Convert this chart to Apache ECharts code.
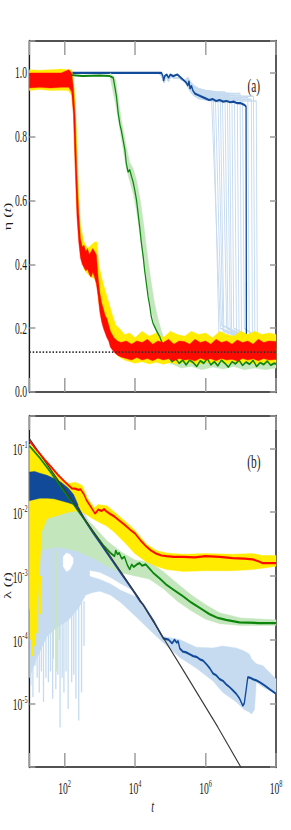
<!DOCTYPE html>
<html><head><meta charset="utf-8">
<script src="https://cdn.jsdelivr.net/npm/echarts@6/dist/echarts.min.js"></script>
<style>
html,body{margin:0;padding:0;background:#fff;overflow:hidden;width:291px;height:830px}
#c{width:485px;height:830px;transform:scaleX(0.6);transform-origin:0 0;}
</style>
</head><body><div id="c"></div>
<script>
// ---------- DATA (lt = log10 t ; panel b values are log10 of lambda) ----------
const xTickExponents = [2, 4, 6, 8];
const yTicksA = [0.0, 0.2, 0.4, 0.6, 0.8, 1.0];
const yTickExponentsB = [-1, -2, -3, -4, -5];
const dottedLevelA = 0.125;

// panel (a): light-blue runs
const lbPlateauLt = [1, 4.7, 4.78, 4.82, 4.88, 4.95, 5.02, 5.1, 5.25, 5.4, 5.5, 5.58, 5.66, 5.8, 6.0, 6.3, 6.7, 7.1, 7.5];
const lbPlateauY  = [1.0, 1.0, 0.985, 0.97, 0.99, 0.975, 0.99, 0.985, 0.985, 0.975, 0.965, 0.95, 0.94, 0.93, 0.925, 0.92, 0.915, 0.912, 0.905];
const lbDropLt    = [6.17, 6.22, 6.28, 6.35, 6.42, 6.48, 6.55, 6.62, 6.68, 6.75, 6.82, 6.9, 6.98, 7.05, 7.2, 7.3, 7.36, 7.44];
const lbDropEndLt = [6.42, 6.38, 6.45, 6.5, 6.52, 6.6, 6.64, 6.7, 6.74, 6.8, 6.88, 6.95, 7.02, 7.1, 7.24, 7.33, 7.4, 7.47];
const lbLevel     = [0.0, 0.01, -0.005, 0.015, 0.005, -0.01, 0.02, 0.0, 0.01, -0.005, 0.015, 0.005, 0.02, 0.0, 0.01, 0.005, 0.015, 0.0];
const lbEndY      = [0.2, 0.18, 0.21, 0.17, 0.19, 0.2, 0.17, 0.19, 0.18, 0.2, 0.17, 0.19, 0.18, 0.2, 0.17, 0.19, 0.18, 0.17];
const lbTailY = 0.13;

// panel (a): dark blue
const blueALt = [1, 4.75, 4.79, 4.81, 4.84, 4.9, 4.95, 5.0, 5.08, 5.2, 5.3, 5.4, 5.45, 5.5, 5.53, 5.56, 5.6, 5.64, 5.7, 5.8, 5.9, 6.0, 6.1, 6.2, 6.3, 6.4, 6.5, 6.6, 6.7, 6.8, 6.9, 7.0, 7.1, 7.15, 7.16, 7.2, 7.3, 8];
const blueAY  = [1.0, 1.0, 0.99, 0.975, 0.99, 0.995, 0.985, 0.995, 0.99, 0.995, 0.985, 0.975, 0.97, 0.96, 0.975, 0.95, 0.96, 0.945, 0.935, 0.93, 0.925, 0.92, 0.915, 0.918, 0.912, 0.915, 0.91, 0.912, 0.908, 0.91, 0.905, 0.905, 0.9, 0.895, 0.15, 0.14, 0.13, 0.12];

// panel (a): green
const greenALt = [1, 1.5, 2.0, 2.5, 3.0, 3.28, 3.38, 3.42, 3.47, 3.52, 3.57, 3.61, 3.66, 3.71, 3.75, 3.8, 3.85, 3.9, 3.94, 3.99, 4.04, 4.08, 4.13, 4.18, 4.23, 4.27, 4.32, 4.37, 4.42, 4.46, 4.51, 4.6, 4.7, 4.79, 4.89,
  4.95, 5.05, 5.15, 5.25, 5.35, 5.45, 5.55, 5.65, 5.75, 5.85, 5.95, 6.05, 6.15, 6.25, 6.35, 6.45, 6.55, 6.65, 6.75, 6.85, 6.95, 7.05, 7.15, 7.25, 7.35, 7.45, 7.55, 7.65, 7.75, 7.85, 7.95, 8.0];
const greenAY  = [0.995, 0.99, 0.995, 0.99, 0.992, 0.99, 0.985, 0.96, 0.927, 0.874, 0.838, 0.82, 0.79, 0.76, 0.717, 0.69, 0.696, 0.675, 0.66, 0.633, 0.602, 0.565, 0.518, 0.466, 0.424, 0.382, 0.34, 0.298, 0.267, 0.236, 0.215, 0.194, 0.173, 0.147, 0.12,
  0.11, 0.095, 0.105, 0.09, 0.1, 0.085, 0.1, 0.092, 0.08, 0.098, 0.09, 0.105, 0.085, 0.095, 0.082, 0.1, 0.09, 0.078, 0.095, 0.088, 0.1, 0.083, 0.094, 0.087, 0.099, 0.08, 0.092, 0.086, 0.097, 0.084, 0.09, 0.088];

// panel (a): light green band
const lgALt = [3.3, 3.45, 3.6, 3.75, 3.85, 3.95, 4.05, 4.15, 4.25, 4.35, 4.45, 4.55, 4.65, 4.75, 4.85, 5.0, 5.3, 5.6, 5.9, 6.2, 6.5, 6.8, 7.1, 7.4, 7.7, 8.0];
const lgALo = [0.98, 0.9, 0.8, 0.7, 0.66, 0.62, 0.56, 0.48, 0.4, 0.32, 0.26, 0.21, 0.17, 0.14, 0.12, 0.09, 0.075, 0.08, 0.07, 0.078, 0.072, 0.08, 0.07, 0.075, 0.07, 0.075];
const lgAHi = [1.0, 0.98, 0.86, 0.77, 0.72, 0.7, 0.66, 0.6, 0.52, 0.43, 0.35, 0.28, 0.23, 0.19, 0.16, 0.12, 0.11, 0.105, 0.11, 0.1, 0.108, 0.1, 0.11, 0.1, 0.105, 0.1];

// panel (a): yellow band
const yelALt = [1.0, 1.3, 1.6, 1.9, 2.1, 2.2, 2.25, 2.3, 2.35, 2.4, 2.45, 2.55, 2.65, 2.75, 2.85, 2.92, 2.97, 3.05, 3.12, 3.2, 3.28, 3.36, 3.45, 3.55, 3.7, 3.85, 4.0, 4.2, 4.4, 4.6, 4.8, 5.0, 5.2, 5.4, 5.6, 5.8, 6.0, 6.2, 6.4, 6.6, 6.8, 7.0, 7.2, 7.4, 7.6, 7.8, 8.0];
const yelALo = [0.945, 0.948, 0.945, 0.946, 0.945, 0.93, 0.88, 0.72, 0.58, 0.49, 0.43, 0.385, 0.37, 0.36, 0.355, 0.33, 0.28, 0.24, 0.21, 0.18, 0.16, 0.14, 0.12, 0.11, 0.1, 0.095, 0.09, 0.095, 0.088, 0.093, 0.087, 0.092, 0.088, 0.094, 0.09, 0.086, 0.093, 0.089, 0.095, 0.088, 0.092, 0.09, 0.094, 0.087, 0.092, 0.089, 0.093];
const yelAHi = [1.01, 1.008, 1.01, 1.012, 1.01, 1.01, 0.98, 0.92, 0.78, 0.62, 0.52, 0.47, 0.45, 0.46, 0.47, 0.47, 0.4, 0.36, 0.33, 0.3, 0.27, 0.24, 0.21, 0.2, 0.18, 0.185, 0.17, 0.19, 0.175, 0.185, 0.17, 0.19, 0.18, 0.175, 0.19, 0.18, 0.185, 0.17, 0.19, 0.18, 0.175, 0.19, 0.18, 0.19, 0.18, 0.185, 0.18];

// panel (a): red band
const redALt = [1.0, 1.3, 1.6, 1.9, 2.12, 2.2, 2.25, 2.3, 2.35, 2.4, 2.45, 2.5, 2.55, 2.6, 2.65, 2.7, 2.75, 2.8, 2.85, 2.9, 2.95, 3.0, 3.05, 3.1, 3.15, 3.2, 3.25, 3.3, 3.4, 3.5, 3.6, 3.75, 3.9, 4.05, 4.2, 4.35, 4.5, 4.65, 4.8, 4.95, 5.1, 5.25, 5.4, 5.55, 5.7, 5.85, 6.0, 6.15, 6.3, 6.45, 6.6, 6.75, 6.9, 7.05, 7.2, 7.35, 7.5, 7.65, 7.8, 8.0];
const redALo = [0.953, 0.955, 0.953, 0.955, 0.955, 0.94, 0.87, 0.7, 0.55, 0.47, 0.42, 0.4, 0.39, 0.38, 0.385, 0.37, 0.36, 0.375, 0.36, 0.34, 0.3, 0.25, 0.22, 0.2, 0.185, 0.17, 0.16, 0.14, 0.125, 0.115, 0.11, 0.105, 0.1, 0.108, 0.1, 0.105, 0.098, 0.106, 0.1, 0.104, 0.097, 0.105, 0.1, 0.103, 0.097, 0.106, 0.1, 0.104, 0.098, 0.105, 0.1, 0.103, 0.097, 0.105, 0.1, 0.104, 0.098, 0.105, 0.1, 0.102];
const redAHi = [1.0, 1.0, 1.0, 1.0, 1.01, 1.0, 0.95, 0.86, 0.68, 0.56, 0.48, 0.455, 0.46, 0.44, 0.45, 0.43, 0.44, 0.45, 0.44, 0.43, 0.36, 0.31, 0.28, 0.26, 0.24, 0.23, 0.21, 0.19, 0.17, 0.16, 0.155, 0.16, 0.15, 0.16, 0.155, 0.165, 0.15, 0.16, 0.155, 0.165, 0.15, 0.16, 0.158, 0.15, 0.165, 0.155, 0.16, 0.15, 0.165, 0.155, 0.16, 0.15, 0.163, 0.155, 0.16, 0.15, 0.165, 0.155, 0.16, 0.158];

// panel (b): black reference curve (log10 lambda)
const blackBLt  = [1, 2.5, 4.13, 5.3, 6.35, 7.0, 8.0];
const blackBLog = [-0.844, -2.05, -3.37, -4.42, -5.375, -6.0, -7.0];

// panel (b): red
const redBLt  = [1.0, 1.2, 1.44, 1.65, 1.82, 2.0, 2.2, 2.3, 2.39, 2.45, 2.55, 2.62, 2.75, 2.86, 2.9, 2.95, 3.05, 3.12, 3.19, 3.3, 3.42, 3.55, 3.71, 3.85, 3.99, 4.15, 4.32, 4.45, 4.6, 4.75, 4.89, 5.1, 5.36, 5.7, 5.99, 6.4, 6.77, 7.1, 7.34, 7.5, 7.62, 7.8, 8.0];
const redBLog = [-0.88, -1.02, -1.18, -1.31, -1.42, -1.52, -1.625, -1.63, -1.65, -1.64, -1.72, -1.81, -1.92, -2.02, -2.0, -1.96, -1.98, -1.95, -1.99, -2.03, -2.07, -2.13, -2.2, -2.27, -2.33, -2.44, -2.54, -2.6, -2.65, -2.68, -2.69, -2.7, -2.7, -2.71, -2.69, -2.7, -2.72, -2.73, -2.74, -2.77, -2.8, -2.8, -2.8];

// panel (b): yellow band
const yelBLt = [1.0, 1.1, 1.25, 1.35, 1.5, 1.8, 2.1, 2.3, 2.5, 2.65, 2.85, 2.95, 3.2, 3.42, 3.71, 3.99, 4.32, 4.6, 4.89, 5.36, 5.99, 6.77, 7.34, 7.62, 8.0];
const yelBHi = [-0.93, -0.98, -1.05, -1.1, -1.2, -1.4, -1.55, -1.53, -1.58, -1.78, -1.93, -1.88, -1.9, -2.0, -2.14, -2.28, -2.5, -2.6, -2.64, -2.66, -2.65, -2.66, -2.65, -2.68, -2.68];
const yelBLo = [-3.5, -3.7, -3.3, -2.3, -2.1, -2.05, -2.0, -1.98, -2.0, -2.05, -2.12, -2.15, -2.22, -2.32, -2.48, -2.65, -2.78, -2.85, -2.9, -2.93, -2.92, -2.92, -2.9, -2.88, -2.85];
const yelSpikeLt  = [1.05, 1.1, 1.15, 1.22, 1.3];
const yelSpikeLog = [-4.0, -4.26, -4.1, -3.9, -3.6];
const yelSpikeTop = -3.0;

// panel (b): green
const greenBLt  = [1.0, 1.3, 1.6, 2.0, 2.4, 2.8, 3.1, 3.3, 3.42, 3.45, 3.5, 3.55, 3.62, 3.7, 3.78, 3.85, 3.9, 3.96, 4.05, 4.13, 4.2, 4.3, 4.4, 4.51, 4.7, 4.89, 5.1, 5.36, 5.6, 5.83, 6.11, 6.35, 6.58, 6.96, 7.5, 8.0];
const greenBLog = [-0.96, -1.15, -1.37, -1.68, -1.99, -2.3, -2.52, -2.64, -2.69, -2.6, -2.66, -2.64, -2.73, -2.7, -2.83, -2.9, -2.82, -2.86, -2.82, -2.8, -2.84, -2.82, -2.88, -2.95, -3.04, -3.14, -3.22, -3.32, -3.42, -3.5, -3.6, -3.66, -3.69, -3.73, -3.74, -3.74];

// panel (b): light green band
const lgBLt = [1.3, 1.8, 2.3, 2.8, 3.2, 3.6, 4.0, 4.4, 4.8, 5.2, 5.6, 6.0, 6.4, 7.0, 8.0];
const lgBLo = [-2.6, -2.55, -2.6, -2.72, -2.85, -2.95, -3.0, -3.05, -3.2, -3.4, -3.55, -3.68, -3.75, -3.78, -3.78];
const lgBHi = [-1.6, -1.7, -1.95, -2.2, -2.45, -2.62, -2.75, -2.78, -2.93, -3.12, -3.3, -3.45, -3.58, -3.66, -3.69];
const lgSpikeLt  = [1.68, 1.78, 1.85];
const lgSpikeLog = [-4.3, -4.5, -4.0];
const lgSpikeTop = -2.6;

// panel (b): dark blue (early oscillating band + line)
const blueBandLt = [1.0, 1.15, 1.3, 1.5, 1.7, 1.9, 2.1, 2.25, 2.38];
const blueBandLo = [-1.82, -1.8, -1.78, -1.78, -1.79, -1.82, -1.85, -1.88, -1.93];
const blueBandHi = [-1.37, -1.36, -1.39, -1.42, -1.47, -1.53, -1.62, -1.72, -1.88];
const blueBLt  = [2.38, 2.6, 2.8, 3.0, 3.2, 3.4, 3.6, 3.8, 4.0, 4.13, 4.23, 4.4, 4.55, 4.7, 4.8, 4.95, 5.05, 5.12, 5.18, 5.22, 5.27, 5.36, 5.45, 5.55, 5.65, 5.74, 5.84, 5.93, 6.03, 6.12, 6.21, 6.3, 6.4, 6.5, 6.6, 6.69, 6.78, 6.87, 6.96, 7.06, 7.1, 7.15, 7.2, 7.27, 7.34, 7.44, 7.54, 7.68, 7.82, 8.0];
const blueBLog = [-1.92, -2.15, -2.32, -2.48, -2.64, -2.8, -2.96, -3.12, -3.28, -3.39, -3.45, -3.6, -3.73, -3.88, -3.98, -4.0, -4.06, -4.0, -4.05, -4.02, -4.14, -4.19, -4.2, -4.23, -4.26, -4.27, -4.31, -4.33, -4.39, -4.45, -4.53, -4.56, -4.62, -4.65, -4.71, -4.75, -4.8, -4.85, -4.92, -5.04, -5.0, -4.8, -4.59, -4.6, -4.62, -4.64, -4.67, -4.72, -4.78, -4.85];

// panel (b): light blue runs (envelope, gaps and downward spikes)
const lbBLt = [1.0, 1.2, 1.5, 1.8, 2.1, 2.4, 2.6, 2.8, 3.0, 3.3, 3.6, 3.85, 4.1, 4.4, 4.8, 5.27, 5.74, 6.21, 6.49, 6.87, 7.1, 7.25, 7.3, 7.39, 7.44, 7.63, 8.0];
const lbBHi = [-1.4, -1.4, -1.45, -1.5, -1.6, -1.8, -2.05, -2.25, -2.45, -2.7, -2.95, -3.15, -3.35, -3.62, -3.95, -4.0, -4.12, -4.13, -4.10, -4.13, -4.18, -4.23, -4.3, -4.35, -4.38, -4.41, -4.62];
const lbBLo = [-4.6, -4.3, -3.95, -3.8, -3.7, -3.5, -3.3, -3.26, -3.24, -3.3, -3.42, -3.55, -3.68, -3.84, -4.05, -4.28, -4.45, -4.65, -4.83, -4.98, -5.1, -5.14, -5.17, -5.1, -4.67, -4.75, -4.85];
const gap1Lt = [1.96, 2.05, 2.15, 2.24];
const gap1Lo = [-2.85, -2.93, -2.9, -2.8];
const gap1Hi = [-2.7, -2.64, -2.66, -2.72];
const gap2Lt = [2.72, 3.0, 3.3, 3.6, 4.0];
const gap2Lo = [-3.0, -3.05, -3.12, -3.22, -3.32];
const gap2Hi = [-2.92, -2.95, -3.03, -3.13, -3.25];
const lbSpikeLt  = [1.04, 1.1, 1.16, 1.22, 1.28, 1.34, 1.4, 1.47, 1.54, 1.6, 1.66, 1.75, 1.81, 1.87, 1.93, 1.98, 2.04, 2.1, 2.2, 2.26, 2.32, 2.4, 2.48, 2.55];
const lbSpikeLog = [-4.72, -4.9, -4.41, -4.6, -4.83, -4.5, -4.98, -4.6, -4.67, -4.5, -4.93, -4.78, -4.55, -5.38, -4.6, -4.83, -4.5, -5.09, -4.67, -4.55, -4.93, -5.27, -4.83, -4.1];
const lbSpikeTop = -3.4;

// ---------- COLORS / LAYOUT ----------
const C = {lightBlue:'#c6dbf0', blue:'#124a9a', green:'#0b850b', lightGreen:'#c4e6bd', yellow:'#ffec00', red:'#ff0a00', black:'#3a3a3a'};
const GL = 49, GW = 411, GH = 351, GT = [41, 416];
const FONT = 'Liberation Serif';

const T = lt => Math.pow(10, lt);
const L = e => Math.pow(10, e);
const ID = v => v;

function line(gi, lts, ys, f, color, width, z, extra) {
  return Object.assign({type:'line', xAxisIndex:gi*2, yAxisIndex:gi*2,
    data: lts.map((x,i)=>[T(x), f(ys[i])]), showSymbol:false, symbol:'none',
    silent:true, animation:false, z, lineStyle:{color, width}}, extra||{});
}
function band(gi, lts, lo, hi, f, color, z) {
  const data = lts.map((x,i)=>[T(x), f(lo[i]), f(hi[i])]);
  return {type:'custom', xAxisIndex:gi*2, yAxisIndex:gi*2, data, z, silent:true, animation:false,
    encode:{x:0, y:[1,2]},
    renderItem:(params, api) => {
      if (params.dataIndex !== 0) return null;
      const pts = [];
      for (let i=0;i<data.length;i++) pts.push(api.coord([data[i][0], data[i][2]]));
      for (let i=data.length-1;i>=0;i--) pts.push(api.coord([data[i][0], data[i][1]]));
      return {type:'polygon', shape:{points:pts}, style:{fill:color, stroke:color, lineWidth:0.5}};
    }};
}
function spikes(gi, lts, bots, top, color, width, z) {
  return {type:'custom', xAxisIndex:gi*2, yAxisIndex:gi*2, z, silent:true, animation:false,
    data: lts.map((x,i)=>[T(x), L(top), L(bots[i])]), encode:{x:0, y:[1,2]},
    renderItem:(p, api) => {
      const a = api.coord([api.value(0), api.value(1)]), b = api.coord([api.value(0), api.value(2)]);
      return {type:'line', shape:{x1:a[0], y1:a[1], x2:b[0], y2:b[1]}, style:{stroke:color, lineWidth:width}};
    }};
}

const series = [];
// ---- panel (a)
for (let k=0;k<lbDropLt.length;k++) {
  const lts = [], ys = [];
  let last = 1.0;
  for (let j=0;j<lbPlateauLt.length;j++) {
    if (lbPlateauLt[j] >= lbDropLt[k]) break;
    const y = lbPlateauY[j] + (lbPlateauLt[j] >= 5.5 ? lbLevel[k] : 0);
    lts.push(lbPlateauLt[j]); ys.push(y); last = y;
  }
  lts.push(lbDropLt[k], lbDropEndLt[k], 8); ys.push(last, lbEndY[k], lbTailY);
  series.push(line(0, lts, ys, ID, C.lightBlue, 1.6, 1));
}
series.push(line(0, blueALt, blueAY, ID, C.blue, 2.2, 2));
series.push(band(0, lgALt, lgALo, lgAHi, ID, C.lightGreen, 3));
series.push(band(0, yelALt, yelALo, yelAHi, ID, C.yellow, 4));
series.push(line(0, greenALt, greenAY, ID, C.green, 2, 5));
series.push(band(0, redALt, redALo, redAHi, ID, C.red, 6));
series.push(line(0, [1, 8], [dottedLevelA, dottedLevelA], ID, '#333', 1.6, 7, {lineStyle:{color:'#333', width:1.6, type:[2.5,3]}}));
// ---- panel (b)
series.push(band(1, lbBLt, lbBLo, lbBHi, L, C.lightBlue, 1));
series.push(spikes(1, lbSpikeLt, lbSpikeLog, lbSpikeTop, C.lightBlue, 2.2, 1));
series.push(band(1, gap1Lt, gap1Lo, gap1Hi, L, '#ffffff', 2));
series.push(band(1, gap2Lt, gap2Lo, gap2Hi, L, '#ffffff', 2));
series.push(band(1, lgBLt, lgBLo, lgBHi, L, C.lightGreen, 3));
series.push(spikes(1, lgSpikeLt, lgSpikeLog, lgSpikeTop, C.lightGreen, 2.2, 3));
series.push(band(1, yelBLt, yelBLo, yelBHi, L, C.yellow, 4));
series.push(spikes(1, yelSpikeLt, yelSpikeLog, yelSpikeTop, C.yellow, 3.5, 4));
series.push(band(1, blueBandLt, blueBandLo, blueBandHi, L, C.blue, 5));
series.push(line(1, blueBLt, blueBLog, L, C.blue, 2.2, 5));
series.push(line(1, greenBLt, greenBLog, L, C.green, 2.2, 6));
series.push(line(1, blackBLt, blackBLog, L, C.black, 1.6, 7));
series.push(line(1, redBLt, redBLog, L, C.red, 2.2, 8));

// ---------- AXES ----------
const rich = {
  b:{fontFamily:FONT, fontSize:16, color:'#1a1a1a', verticalAlign:'bottom', lineHeight:19},
  s:{fontFamily:FONT, fontSize:10.5, color:'#1a1a1a', verticalAlign:'top', lineHeight:19}
};
function isInt(x){ return Math.abs(x - Math.round(x)) < 1e-6; }
function xFmt(v){
  const e = Math.log10(v);
  if (!isInt(e) || xTickExponents.indexOf(Math.round(e)) < 0) return '';
  return '{b|10}{s|' + Math.round(e) + '}';
}
function yFmtB(v){
  const e = Math.log10(v);
  if (!isInt(e) || yTickExponentsB.indexOf(Math.round(e)) < 0) return '';
  return '{b|10}{s|' + Math.round(e) + '}';
}
function yFmtA(v){
  const hit = yTicksA.find(t => Math.abs(t - v) < 1e-6);
  return hit === undefined ? '' : hit.toFixed(1);
}
const axLine = w => ({show:true, onZero:false, lineStyle:{color:'#1a1a1a', width:w}});
function xAx(gi, pos, showLabel, name) {
  return {type:'log', logBase:100, min:10, max:1e8, gridIndex:gi, position:pos,
    axisLine: axLine(1.5),
    axisTick:{show:true, inside:true, length:14, lineStyle:{color:'#9a9a9a', width:2.4}},
    axisLabel:{show:showLabel, margin:11, formatter:xFmt, rich},
    splitLine:{show:false}, minorTick:{show:false},
    name: name || '', nameLocation:'middle', nameGap:31,
    nameTextStyle:{fontFamily:FONT, fontSize:17, fontStyle:'italic', color:'#1a1a1a'}};
}
function yAxA(pos, showLabel) {
  return {type:'value', min:0, max:1.1, interval:0.2, gridIndex:0, position:pos,
    axisLine: axLine(2.4),
    axisTick:{show:true, inside:true, length:10, lineStyle:{color:'#9a9a9a', width:1.5}},
    axisLabel:{show:showLabel, margin:4, formatter:yFmtA, fontFamily:FONT, fontSize:16, color:'#1a1a1a'},
    splitLine:{show:false}};
}
function yAxB(pos, showLabel) {
  return {type:'log', logBase:10, min:1e-6, max:0.3236, gridIndex:1, position:pos,
    axisLine: axLine(2.4),
    axisTick:{show:true, inside:true, length:10, lineStyle:{color:'#9a9a9a', width:1.5}},
    axisLabel:{show:showLabel, margin:3, formatter:yFmtB, rich},
    splitLine:{show:false}, minorTick:{show:false}};
}

const chart = echarts.init(document.getElementById('c'), null, {renderer:'svg', width:485, height:830});
chart.setOption({
  animation:false,
  backgroundColor:'#ffffff',
  grid:[{left:GL, top:GT[0], width:GW, height:GH}, {left:GL, top:GT[1], width:GW, height:GH}],
  xAxis:[xAx(0,'bottom',false), xAx(0,'top',false), xAx(1,'bottom',true,'t'), xAx(1,'top',false)],
  yAxis:[yAxA('left',true), yAxA('right',false), yAxB('left',true), yAxB('right',false)],
  series,
  graphic:[
    {type:'text', x:13, y:GT[0]+GH/2, rotation:Math.PI/2, z:20,
      style:{text:'{n|η (}{i|t}{n|)}', textAlign:'center', textVerticalAlign:'middle',
        rich:{n:{fontFamily:FONT, fontSize:16, fill:'#1a1a1a'}, i:{fontFamily:FONT, fontSize:16, fontStyle:'italic', fill:'#1a1a1a'}}}},
    {type:'text', x:13, y:GT[1]+GH/2-6, rotation:Math.PI/2, z:20,
      style:{text:'{n|λ (}{i|t}{n|)}', textAlign:'center', textVerticalAlign:'middle',
        rich:{n:{fontFamily:FONT, fontSize:16, fill:'#1a1a1a'}, i:{fontFamily:FONT, fontSize:16, fontStyle:'italic', fill:'#1a1a1a'}}}},
    {type:'text', x:423, y:85, z:20, style:{text:'(a)', textAlign:'center', textVerticalAlign:'middle', font:'19px "Liberation Serif"', fill:'#1a1a1a'}},
    {type:'text', x:423, y:461, z:20, style:{text:'(b)', textAlign:'center', textVerticalAlign:'middle', font:'19px "Liberation Serif"', fill:'#1a1a1a'}}
  ]
});
</script></body></html>
